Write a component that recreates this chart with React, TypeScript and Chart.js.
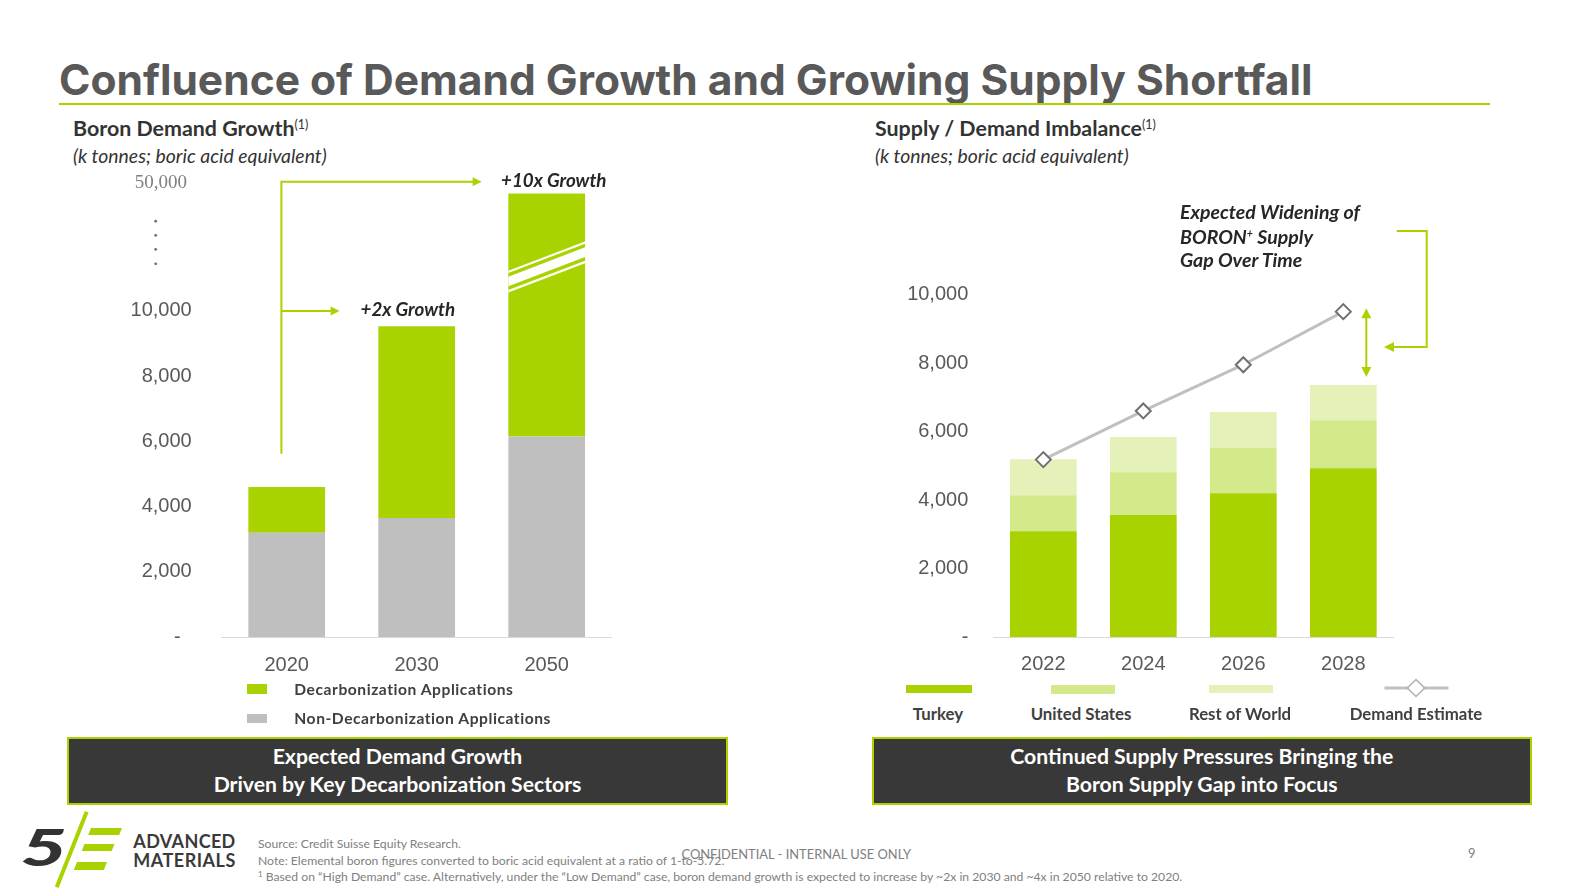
import React, { useEffect, useRef } from 'react';
import { Chart, registerables, LinearScale } from 'chart.js';

Chart.register(...registerables);

// ---------------- data ----------------
const demandYears = ['2020', '2030', '2050'];
const nonDecarbonization = [3200, 3650, 6150];
const decarbonization = [1400, 5880, 39850];
const demandTickValues = [0, 2000, 4000, 6000, 8000, 10000, 50000];

const supplyYears = ['2022', '2024', '2026', '2028'];
const turkey = [3090, 3560, 4200, 4930];
const unitedStates = [1050, 1250, 1320, 1400];
const restOfWorld = [1050, 1030, 1050, 1030];
const demandEstimate = [5180, 6600, 7950, 9500];
const supplyTickValues = [0, 2000, 4000, 6000, 8000, 10000];

// ---------------- styles ----------------
const GREEN = '#a9d300';
const US_GREEN = '#d4e98a';
const ROW_GREEN = '#e4f2ba';
const GRAY_BAR = '#bfbfbf';
const AXIS_TEXT = '#595959';
const CAL = 'Lato, "Open Sans", sans-serif';

// broken value axis: 10,000 .. 50,000 squeezed into the room of 4,000
const BREAK_FROM = 10000;
const BREAK_TO = 50000;
const BREAK_ROOM = 4000;
const squash = (v: number) =>
  v <= BREAK_FROM ? v : BREAK_FROM + ((v - BREAK_FROM) * BREAK_ROOM) / (BREAK_TO - BREAK_FROM);
const unsquash = (v: number) =>
  v <= BREAK_FROM ? v : BREAK_FROM + ((v - BREAK_FROM) * (BREAK_TO - BREAK_FROM)) / BREAK_ROOM;

class BrokenLinearScale extends LinearScale {
  static id = 'brokenLinear';
  static defaults = LinearScale.defaults;
  getPixelForValue(value: number) {
    return super.getPixelForValue(squash(value));
  }
  getValueForPixel(pixel: number) {
    return unsquash(super.getValueForPixel(pixel) as number);
  }
}
Chart.register(BrokenLinearScale as any);

function arrowHead(ctx: CanvasRenderingContext2D, tx: number, ty: number, dx: number, dy: number, len = 9, half = 4.5) {
  const px = -dy, py = dx;
  ctx.beginPath();
  ctx.moveTo(tx, ty);
  ctx.lineTo(tx - dx * len + px * half, ty - dy * len + py * half);
  ctx.lineTo(tx - dx * len - px * half, ty - dy * len - py * half);
  ctx.closePath();
  ctx.fill();
}

const leftDecorations = {
  id: 'leftDecorations',
  afterDatasetsDraw(chart: any) {
    const { ctx, chartArea } = chart;
    const xs = chart.scales.x;
    const ys = chart.scales.y;
    ctx.save();
    // axis-break marks on the 2050 bar
    const bar = chart.getDatasetMeta(1).data[2];
    const { x: bx, y: by, width: bw } = bar.getProps(['x', 'y', 'width'], true);
    const l = bx - bw / 2, r = bx + bw / 2;
    const yl = by + 77.3, yr = by + 48;
    const band = (o1: number, o2: number, color: string) => {
      ctx.fillStyle = color;
      ctx.beginPath();
      ctx.moveTo(l, yl + o1);
      ctx.lineTo(r, yr + o1);
      ctx.lineTo(r, yr + o2);
      ctx.lineTo(l, yl + o2);
      ctx.closePath();
      ctx.fill();
    };
    band(0, 21.7, '#ffffff');
    band(2.2, 5.8, GREEN);
    band(15.4, 19.2, GREEN);

    // dots between 10,000 and 50,000
    const yTop = ys.getPixelForValue(50000);
    const y10 = ys.getPixelForValue(10000);
    ctx.fillStyle = '#6f6f6f';
    [0.312, 0.42, 0.528, 0.639].forEach((f) => {
      ctx.beginPath();
      ctx.arc(chartArea.left - 66, yTop + (y10 - yTop) * f, 1.4, 0, Math.PI * 2);
      ctx.fill();
    });

    // growth arrows
    const b2020 = chart.getDatasetMeta(1).data[0];
    const b2030 = chart.getDatasetMeta(1).data[1];
    const xLine = xs.getPixelForValue(0) - 5.3;
    const yBottom = b2020.y - 33.3;
    const yA = yTop + 1.2;
    const yB = y10;
    const tipTop = bx - bw / 2 - 26.7;
    const tipMid = b2030.x - b2030.width / 2 - 38.7;
    ctx.strokeStyle = GREEN;
    ctx.fillStyle = GREEN;
    ctx.lineWidth = 2;
    ctx.beginPath();
    ctx.moveTo(xLine, yBottom);
    ctx.lineTo(xLine, yA);
    ctx.lineTo(tipTop - 8, yA);
    ctx.moveTo(xLine, yB);
    ctx.lineTo(tipMid - 8, yB);
    ctx.stroke();
    arrowHead(ctx, tipTop, yA, 1, 0);
    arrowHead(ctx, tipMid, yB, 1, 0);
    ctx.restore();
  },
};

const rightDecorations = {
  id: 'rightDecorations',
  afterDatasetsDraw(chart: any) {
    const { ctx, chartArea } = chart;
    ctx.save();
    const bar = chart.getDatasetMeta(2).data[3];
    const pt = chart.getDatasetMeta(3).data[3];
    const ax = bar.x + 23;
    const top = pt.y - 3.3;
    const bottom = bar.y - 8;
    ctx.strokeStyle = GREEN;
    ctx.fillStyle = GREEN;
    ctx.lineWidth = 2;
    ctx.beginPath();
    ctx.moveTo(ax, top + 8);
    ctx.lineTo(ax, bottom - 8);
    ctx.stroke();
    arrowHead(ctx, ax, top, 0, -1, 10, 5);
    arrowHead(ctx, ax, bottom, 0, 1, 10, 5);

    // bracket from the annotation
    const x1 = chartArea.right + 3.4;
    const x2 = chartArea.right + 33.4;
    const yT = chartArea.top - 63.6;
    const yBk = chartArea.top + 52.4;
    const tip = chartArea.right - 9.3;
    ctx.beginPath();
    ctx.moveTo(x1, yT);
    ctx.lineTo(x2, yT);
    ctx.lineTo(x2, yBk);
    ctx.lineTo(tip + 8, yBk);
    ctx.stroke();
    arrowHead(ctx, tip, yBk, -1, 0, 10, 5);
    ctx.restore();
  },
};

const noScalePadding = (s: any) => {
  s.paddingTop = 0;
  s.paddingBottom = 0;
};

function DemandChart() {
  const ref = useRef<HTMLCanvasElement>(null);
  useEffect(() => {
    const chart = new Chart(ref.current as HTMLCanvasElement, {
      type: 'bar',
      data: {
        labels: demandYears,
        datasets: [
          { label: 'Non-Decarbonization Applications', data: nonDecarbonization, backgroundColor: GRAY_BAR },
          { label: 'Decarbonization Applications', data: decarbonization, backgroundColor: GREEN },
        ],
      },
      options: {
        animation: false,
        responsive: false,
        layout: { padding: { top: 15.5, right: 18.3, bottom: 8, left: 0 } },
        plugins: { legend: { display: false }, tooltip: { enabled: false } },
        datasets: { bar: { categoryPercentage: 1, barPercentage: 0.59 } },
        scales: {
          x: {
            stacked: true,
            grid: { display: false, drawTicks: false },
            border: { display: true, color: '#d9d9d9', width: 1 },
            ticks: { padding: 16, color: AXIS_TEXT, font: { family: '"Liberation Sans", Arial', size: 20 } },
            afterFit: (s: any) => { s.height = 40; },
          },
          y: {
            type: 'brokenLinear' as any,
            stacked: true,
            min: 0,
            max: BREAK_FROM + BREAK_ROOM,
            grid: { display: false, drawTicks: false },
            border: { display: false },
            afterBuildTicks: (s: any) => { s.ticks = demandTickValues.map((v) => ({ value: v })); },
            afterFit: (s: any) => { s.width = 121.7; noScalePadding(s); },
            ticks: {
              padding: 30,
              color: (c: any) => (c.tick && c.tick.value === BREAK_TO ? '#7f7f7f' : AXIS_TEXT),
              font: (c: any) =>
                c.tick && c.tick.value === BREAK_TO
                  ? { family: '"Liberation Serif", serif', size: 19, lineHeight: 0.3 }
                  : { family: '"Liberation Sans", Arial', size: 20 },
              callback: (v: any) =>
                v === 0
                  ? '-  '
                  : v === BREAK_TO
                  ? ['', Number(v).toLocaleString('en-US') + ' ']
                  : Number(v).toLocaleString('en-US'),
            },
          },
        },
      } as any,
      plugins: [leftDecorations],
    });
    return () => chart.destroy();
  }, []);
  return <canvas ref={ref} width={530} height={520} style={{ position: 'absolute', left: 100, top: 165, width: 530, height: 520 }} />;
}

function SupplyChart() {
  const ref = useRef<HTMLCanvasElement>(null);
  useEffect(() => {
    const chart = new Chart(ref.current as HTMLCanvasElement, {
      type: 'bar',
      data: {
        labels: supplyYears,
        datasets: [
          { label: 'Turkey', data: turkey, backgroundColor: GREEN, order: 1 },
          { label: 'United States', data: unitedStates, backgroundColor: US_GREEN, order: 1 },
          { label: 'Rest of World', data: restOfWorld, backgroundColor: ROW_GREEN, order: 1 },
          {
            type: 'line',
            label: 'Demand Estimate',
            data: demandEstimate,
            borderColor: '#c0c0c0',
            borderWidth: 3,
            pointStyle: 'rectRot',
            pointRadius: 7.5,
            pointBackgroundColor: '#ffffff',
            pointBorderColor: '#707070',
            pointBorderWidth: 2,
            order: 0,
          } as any,
        ],
      },
      options: {
        animation: false,
        responsive: false,
        layout: { padding: { top: 132.5, right: 66.7, bottom: 5, left: 0 } },
        plugins: { legend: { display: false }, tooltip: { enabled: false } },
        datasets: { bar: { categoryPercentage: 1, barPercentage: 0.667 } },
        scales: {
          x: {
            stacked: true,
            grid: { display: false, drawTicks: false },
            border: { display: true, color: '#d9d9d9', width: 1 },
            ticks: { padding: 15.7, color: AXIS_TEXT, font: { family: '"Liberation Sans", Arial', size: 20 } },
            afterFit: (s: any) => { s.height = 40; },
          },
          y: {
            stacked: true,
            min: 0,
            max: 10000,
            grid: { display: false, drawTicks: false },
            border: { display: false },
            afterBuildTicks: (s: any) => { s.ticks = supplyTickValues.map((v) => ({ value: v })); },
            afterFit: (s: any) => { s.width = 113.3; noScalePadding(s); },
            ticks: {
              padding: 25,
              color: AXIS_TEXT,
              font: { family: '"Liberation Sans", Arial', size: 20 },
              callback: (v: any) => (v === 0 ? '-' : Number(v).toLocaleString('en-US')),
            },
          },
        },
      } as any,
      plugins: [rightDecorations],
    });
    return () => chart.destroy();
  }, []);
  return <canvas ref={ref} width={580} height={520} style={{ position: 'absolute', left: 880, top: 161.5, width: 580, height: 520 }} />;
}

function T(props: { x: number; y: number; size: number; weight?: number; italic?: boolean; color?: string; family?: string; align?: 'left' | 'center'; ls?: number; children: any }) {
  const { x, y, size, weight = 400, italic = false, color = '#333', family = CAL, align = 'left', ls = 0 } = props;
  return (
    <div
      style={{
        position: 'absolute',
        left: x,
        top: y,
        transform: align === 'center' ? 'translate(-50%, -50%)' : 'translateY(-50%)',
        fontFamily: family,
        fontSize: size,
        fontWeight: weight,
        fontStyle: italic ? 'italic' : 'normal',
        color,
        whiteSpace: 'nowrap',
        lineHeight: 1.2,
        letterSpacing: ls,
      }}
    >
      {props.children}
    </div>
  );
}

function Box(props: { x: number; w: number; lines: string[] }) {
  return (
    <div
      style={{
        position: 'absolute',
        left: props.x,
        top: 736.5,
        width: props.w,
        height: 68,
        boxSizing: 'border-box',
        background: '#383838',
        border: `2px solid ${GREEN}`,
        display: 'flex',
        flexDirection: 'column',
        alignItems: 'center',
        justifyContent: 'center',
        color: '#ffffff',
        fontFamily: CAL,
        fontWeight: 700,
        fontSize: 21.2,
        lineHeight: '28.4px',
        paddingBottom: 1,
      }}
    >
      {props.lines.map((t) => (
        <div key={t} style={{ whiteSpace: 'nowrap' }}>{t}</div>
      ))}
    </div>
  );
}

function Swatch(props: { x: number; y: number; w: number; h: number; color: string }) {
  return <div style={{ position: 'absolute', left: props.x, top: props.y, width: props.w, height: props.h, background: props.color }} />;
}

function Logo() {
  return (
    <svg width={250} height={94} viewBox="0 800 250 94" style={{ position: 'absolute', left: 0, top: 800 }}>
      <text transform="translate(20.5,865.5) scale(1.55,1)" x={0} y={0} fontFamily={CAL} fontWeight={900} fontStyle="italic" fontSize={52} fill="#333333">5</text>
      <line x1={86.7} y1={811.7} x2={56.7} y2={887.3} stroke={GREEN} strokeWidth={4} />
      <polygon points="91,828 122,828 119.2,835 88.2,835" fill={GREEN} />
      <polygon points="84.5,844 114.5,844 111.7,851 81.7,851" fill={GREEN} />
      <polygon points="77,862 107,862 103.8,870 73.8,870" fill={GREEN} />
      <text x={133.3} y={848} fontFamily={CAL} fontWeight={700} fontSize={18} fill="#3a3a3a" textLength={102} lengthAdjust="spacing">ADVANCED</text>
      <text x={133.3} y={867} fontFamily={CAL} fontWeight={700} fontSize={18} fill="#3a3a3a" textLength={102} lengthAdjust="spacing">MATERIALS</text>
    </svg>
  );
}

export default function App() {
  const sup = { fontSize: '0.58em', verticalAlign: '0.6em', fontWeight: 400 } as const;
  return (
    <div style={{ position: 'absolute', left: 0, top: 0, width: 1595, height: 894, background: '#ffffff', overflow: 'hidden' }}>
      <T x={59} y={78.5} size={42.5} weight={700} family="Inter, Montserrat, sans-serif" color="#595959">
        Confluence of Demand Growth and Growing Supply Shortfall
      </T>
      <div style={{ position: 'absolute', left: 59, top: 103, width: 1431, height: 2, background: GREEN }} />

      <T x={73} y={129} size={21.4} weight={700} color="#333333">
        Boron Demand Growth<span style={sup}>(1)</span>
      </T>
      <T x={73} y={155.6} size={19.4} italic color="#333333">(k tonnes; boric acid equivalent)</T>
      <T x={875} y={129} size={21.4} weight={700} color="#333333">
        Supply / Demand Imbalance<span style={sup}>(1)</span>
      </T>
      <T x={875} y={155.6} size={19.4} italic color="#333333">(k tonnes; boric acid equivalent)</T>

      <DemandChart />
      <SupplyChart />

      <T x={501} y={180} size={18.8} weight={700} italic color="#262626">+10x Growth</T>
      <T x={360.5} y={309} size={18.8} weight={700} italic color="#262626">+2x Growth</T>

      <T x={1180} y={212.3} size={19.5} weight={700} italic color="#262626">Expected Widening of</T>
      <T x={1180} y={236.7} size={19.5} weight={700} italic color="#262626">
        BORON<span style={{ fontSize: '0.55em', verticalAlign: '0.7em' }}>+</span> Supply
      </T>
      <T x={1180} y={260} size={19.5} weight={700} italic color="#262626">Gap Over Time</T>

      {/* left legend */}
      <Swatch x={246.5} y={684.3} w={20} h={9.7} color={GREEN} />
      <Swatch x={246.5} y={714} w={20} h={9.3} color={GRAY_BAR} />
      <T x={294.3} y={689} size={15.6} weight={700} color="#404040" ls={0.55}>Decarbonization Applications</T>
      <T x={294.3} y={718.3} size={15.6} weight={700} color="#404040" ls={0.55}>Non-Decarbonization Applications</T>

      {/* right legend */}
      <Swatch x={906} y={684.6} w={65.5} h={8.5} color={GREEN} />
      <Swatch x={1051} y={685.3} w={64} h={8.5} color={US_GREEN} />
      <Swatch x={1208.5} y={684.6} w={64} h={8.5} color={ROW_GREEN} />
      <svg width={70} height={24} style={{ position: 'absolute', left: 1382, top: 676 }}>
        <line x1={2.5} y1={12} x2={66.5} y2={12} stroke="#c0c0c0" strokeWidth={3} />
        <polygon points="34,3.5 42.5,12 34,20.5 25.5,12" fill="#ffffff" stroke="#b0b0b0" strokeWidth={1.5} />
      </svg>
      <T x={938} y={714} size={16.8} weight={700} color="#404040" align="center">Turkey</T>
      <T x={1081} y={714} size={16.8} weight={700} color="#404040" align="center">United States</T>
      <T x={1240} y={714} size={16.8} weight={700} color="#404040" align="center">Rest of World</T>
      <T x={1416} y={714} size={16.8} weight={700} color="#404040" align="center">Demand Estimate</T>

      <Box x={67} w={661} lines={['Expected Demand Growth', 'Driven by Key Decarbonization Sectors']} />
      <Box x={871.7} w={660.3} lines={['Continued Supply Pressures Bringing the', 'Boron Supply Gap into Focus']} />

      <Logo />
      <T x={258} y={844} size={12.2} color="#808080">Source: Credit Suisse Equity Research.</T>
      <T x={258} y={860.6} size={12.2} color="#808080">
        Note: Elemental boron figures converted to boric acid equivalent at a ratio of 1-to-5.72.
      </T>
      <T x={258} y={876.8} size={12.2} color="#808080">
        <span style={{ fontSize: '0.65em', verticalAlign: '0.5em' }}>1</span> Based on “High Demand” case. Alternatively, under the “Low Demand” case, boron demand growth is expected to increase by ~2x in 2030 and ~4x in 2050 relative to 2020.
      </T>
      <T x={681.5} y={854.5} size={12.9} color="#808080">CONFIDENTIAL - INTERNAL USE ONLY</T>
      <T x={1468} y={854} size={12.9} color="#808080">9</T>
    </div>
  );
}
